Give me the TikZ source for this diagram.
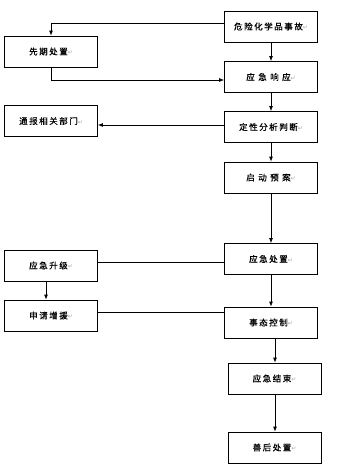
\documentclass[tikz,border=0pt]{standalone}
\usepackage{fontspec}
\newfontfamily\cjk[LetterSpace=18,FakeBold=0.6]{Noto Sans CJK SC}
\newfontfamily\djv{DejaVu Sans}
\usetikzlibrary{arrows.meta}
\newcommand{\parmk}{{\djv\fontsize{6}{6}\selectfont\color{gray!70}↵}}
\begin{document}
\begin{tikzpicture}[x=1pt,y=-1pt,
  box/.style={draw,line width=0.8pt,minimum width=93pt,minimum height=31pt,inner sep=0pt,font=\cjk\fontsize{8.5}{10}\selectfont},
  arr/.style={line width=0.8pt,-{Latex[length=5pt,width=4pt]}},
  ln/.style={line width=0.8pt}]
\useasboundingbox (0,0) rectangle (340,474);
\node[box] (acc) at (271,26.5) {危险化学品事故\parmk};
\node[box] (pre) at (51,51.5) {先期处置\parmk};
\node[box] (resp) at (271,77) {应\ 急\ 响\ 应\parmk};
\node[box] (notify) at (51,121) {通报相关部门\parmk};
\node[box] (judge) at (271,127) {定性分析判断\parmk};
\node[box] (start) at (271,177.5) {启\ 动\ 预\ 案\parmk};
\node[box] (handle) at (271,259) {应急处置\parmk};
\node[box] (up) at (51,265.5) {应急升级\parmk};
\node[box] (help) at (51,315.5) {申请增援\parmk};
\node[box] (ctrl) at (271,322.5) {事态控制\parmk};
\node[box] (end) at (274.5,378.5) {应急结束\parmk};
\node[box] (after) at (274.5,447.5) {善后处置\parmk};

\draw[arr] (acc.west |- 0,23) -| (pre.north);
\draw[arr] (acc.south) -- (resp.north);
\draw[arr] (pre.south) |- (resp.west |- 0,80);
\draw[arr] (resp.south) -- (judge.north);
\draw[arr] (judge.west |- 0,125) -- (notify.east |- 0,125);
\draw[arr] (judge.south) -- (start.north);
\draw[arr] (start.south) -- (handle.north);
\draw[ln] (handle.west |- 0,262) -- (up.east |- 0,262);
\draw[arr] (up.south -| 46,0) -- (help.north -| 46,0);
\draw[arr] (handle.south) -- (ctrl.north);
\draw[ln] (help.east |- 0,312) -- (ctrl.west |- 0,312);
\draw[arr] (ctrl.south -| 275,0) -- (end.north -| 275,0);
\draw[arr] (end.south -| 275,0) -- (after.north -| 275,0);
\end{tikzpicture}
\end{document}
